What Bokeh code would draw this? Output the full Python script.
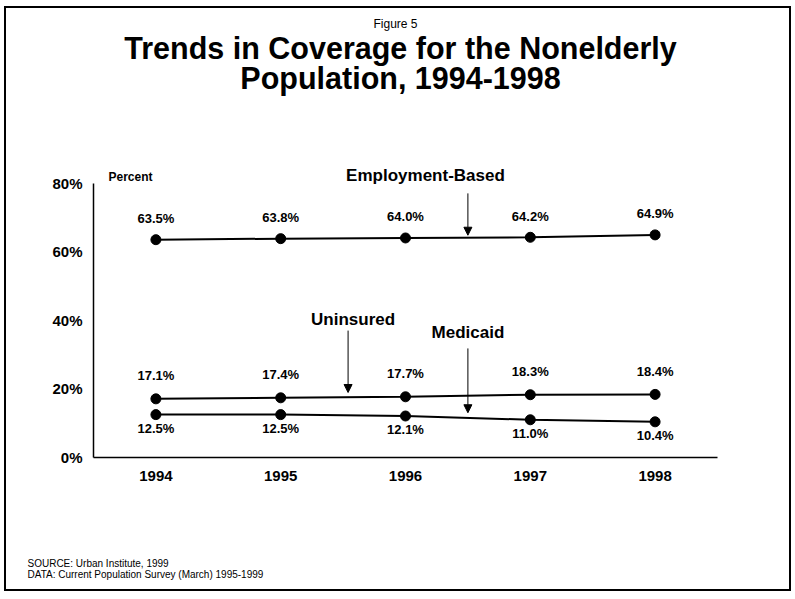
from bokeh.plotting import figure
from bokeh.layouts import column
from bokeh.models import FixedTicker, Label, Arrow, NormalHead, Range1d, ColumnDataSource, Title
from bokeh.embed import file_html
from bokeh.resources import INLINE
from bokeh.core.properties import value

# ---- data ----
years = [1994, 1995, 1996, 1997, 1998]
year_labels = ["1994", "1995", "1996", "1997", "1998"]
employment = [63.5, 63.8, 64.0, 64.2, 64.9]
uninsured = [17.1, 17.4, 17.7, 18.3, 18.4]
medicaid = [12.5, 12.5, 12.1, 11.0, 10.4]
y_ticks = [0, 20, 40, 60, 80]
y_tick_labels = ["0%", "20%", "40%", "60%", "80%"]
source_notes = ["SOURCE: Urban Institute, 1999",
                "DATA: Current Population Survey (March) 1995-1999"]

FONT = "Liberation Sans"
W = 783
H = 581

p = figure(width=W, height=H, output_backend="svg", toolbar_location=None,
           x_range=Range1d(1993.5, 1998.5), y_range=Range1d(0, 130.9),
           min_border_left=87, min_border_right=72, min_border_top=0,
           min_border_bottom=H - 449)
p.background_fill_color = "white"
p.border_fill_color = "white"
p.outline_line_color = None
p.grid.visible = False

for ax in (p.xaxis[0], p.yaxis[0]):
    ax.axis_line_color = "black"
    ax.axis_line_width = 1.5
    ax.major_tick_line_color = None
    ax.minor_tick_line_color = None
    ax.major_tick_out = 0
    ax.major_tick_in = 0
    ax.major_label_text_font = FONT
    ax.major_label_text_font_style = "bold"
    ax.major_label_text_font_size = "15px"
    ax.major_label_text_color = "black"

p.xaxis.ticker = FixedTicker(ticks=years)
p.xaxis.major_label_overrides = {y: s for y, s in zip(years, year_labels)}
p.xaxis.major_label_standoff = 13
p.yaxis.ticker = FixedTicker(ticks=y_ticks)
p.yaxis.major_label_overrides = {t: s for t, s in zip(y_ticks, y_tick_labels)}
p.yaxis.major_label_standoff = 11
p.yaxis.bounds = (y_ticks[0], y_ticks[-1])


def pct(vals):
    return [f"{v:.1f}%" for v in vals]


series = [(employment, -21), (uninsured, -23), (medicaid, 14)]
for vals, off in series:
    src = ColumnDataSource(dict(x=years, y=vals, lab=pct(vals)))
    p.line("x", "y", source=src, line_color="black", line_width=2)
    p.scatter("x", "y", source=src, size=10, fill_color="black", line_color="black")
    p.text("x", "y", text="lab", source=src, y_offset=off, text_align="center",
           text_baseline="middle", text_font=value(FONT), text_font_style="bold",
           text_font_size="13px", text_color="black")


def add_label(x, y, text, size, bold=True, align="center"):
    p.add_layout(Label(x=x, y=y, text=text, text_align=align, text_baseline="middle",
                       text_font=FONT, text_font_style="bold" if bold else "normal",
                       text_font_size=size, text_color="black"))


def mid(vals, i):
    return (vals[i] + vals[i + 1]) / 2


# titles
add_label(1995.92, 126.5, "Figure 5", "12px", bold=False)
add_label(1995.96, 119.5, "Trends in Coverage for the Nonelderly", "30.5px")
add_label(1995.96, 110.5, "Population, 1994-1998", "30.5px")

# axis caption
add_label(1993.62, 81.9, "Percent", "12px", align="left")

# series captions with arrows
add_label(1996.16, 82.2, "Employment-Based", "17px")
add_label(1995.58, 40.2, "Uninsured", "17px")
add_label(1996.5, 36.4, "Medicaid", "17px")

arrows = [(1996.5, 77.0, mid(employment, 2) + 0.7),
          (1995.54, 37.0, mid(uninsured, 1) + 1.4),
          (1996.5, 31.8, mid(medicaid, 2) + 1.5)]
for x, y0, y1 in arrows:
    p.add_layout(Arrow(x_start=x, y_start=y0, x_end=x, y_end=y1, line_color="black",
                       line_width=1, end=NormalHead(size=8, fill_color="black",
                                                     line_color="black")))

# source notes below the x axis (leading blank lines push them to the foot)
p.add_layout(Title(text="\n" * 6 + "\n".join(source_notes), align="left", offset=-66,
                   vertical_align="bottom", standoff=6, text_font=FONT,
                   text_font_style="normal", text_font_size="10px",
                   text_line_height=1.05, text_color="black"), "below")

layout = column(p, spacing=0,
                styles={"border": "2px solid black", "margin-left": "4px", "margin-top": "6px"})

open("out.html", "w").write(file_html(layout, INLINE))
